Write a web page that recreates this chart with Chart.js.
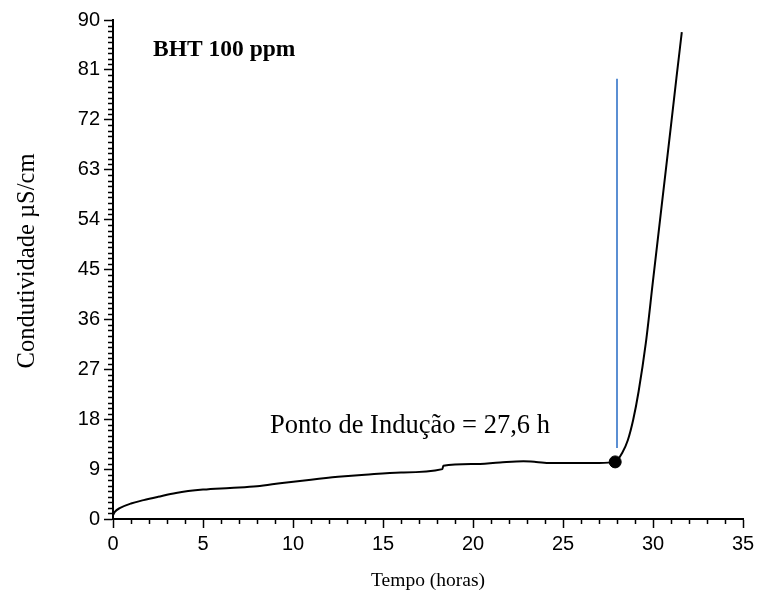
<!DOCTYPE html>
<html>
<head>
<meta charset="utf-8">
<script src="https://cdn.jsdelivr.net/npm/chart.js@4"></script>
<style>
  html, body { margin: 0; padding: 0; background: #fff; }
  #wrap { width: 759px; height: 598px; }
</style>
</head>
<body>
<div id="wrap"><canvas id="myChart" width="759" height="598"></canvas></div>
<script>
// tempo (h) x condutividade (uS/cm)
const tempo  = [0, 0.1, 0.4, 1, 1.7, 2.5, 3.5, 5, 6.5, 8, 9.4, 11, 12.5, 14, 16, 18.3, 18.35, 20, 21.5, 22.8, 23.5, 24.3, 25.5, 27, 27.9, 28.3, 28.6, 28.9, 29.2, 29.6, 30.0, 30.5, 31.0, 31.3, 31.6];
const condut = [0.7, 1.3, 2.0, 2.8, 3.4, 4.0, 4.7, 5.3, 5.6, 5.9, 6.5, 7.1, 7.6, 8.0, 8.4, 9.0, 9.6, 9.9, 10.2, 10.4, 10.3, 10.1, 10.1, 10.1, 10.3, 12, 14.2, 17.9, 23, 31.7, 43, 57, 71, 79.5, 87.8];

const pontoInducao = [{x: 27.9, y: 10.3}];
const linhaInducao = [{x: 28, y: 12.8}, {x: 28, y: 79.4}];

const xTicks = [0, 5, 10, 15, 20, 25, 30, 35];
const yTicks = [0, 9, 18, 27, 36, 45, 54, 63, 72, 81, 90];

const pontos = [];
for (let i = 0; i < tempo.length; i++) {
  pontos.push({x: tempo[i], y: condut[i]});
}

const serif = "'Liberation Serif', 'Times New Roman', serif";
const sans = "'Liberation Sans', Arial, sans-serif";

// minor ticks + textos
const extras = {
  id: 'extras',
  afterDraw(chart) {
    const ctx = chart.ctx;
    const xs = chart.scales.x, ys = chart.scales.y;
    const a = chart.chartArea;
    ctx.save();
    ctx.strokeStyle = '#000';
    ctx.lineWidth = 1.5;
    ctx.beginPath();
    for (let v = 0; v <= 35; v++) {
      if (v % 5 === 0) continue;
      const px = Math.round(xs.getPixelForValue(v)) + 0.5;
      ctx.moveTo(px, a.bottom);
      ctx.lineTo(px, a.bottom + 5);
    }
    for (let v = 0; v <= 90; v++) {
      if (v % 9 === 0) continue;
      const py = Math.round(ys.getPixelForValue(v)) + 0.5;
      ctx.moveTo(a.left, py);
      ctx.lineTo(a.left - 5, py);
    }
    ctx.stroke();

    ctx.fillStyle = '#000';
    ctx.textBaseline = 'alphabetic';
    ctx.textAlign = 'left';
    ctx.font = 'bold 23.5px ' + serif;
    ctx.fillText('BHT 100 ppm', 153, 56);
    ctx.font = '26.5px ' + serif;
    ctx.fillText('Ponto de Indução = 27,6 h', 270, 433);

    ctx.textAlign = 'center';
    ctx.font = '19.5px ' + serif;
    ctx.fillText('Tempo (horas)', (a.left + a.right) / 2, 586);
    ctx.translate(34, 261);
    ctx.rotate(-Math.PI / 2);
    ctx.font = '24.5px ' + serif;
    ctx.fillText('Condutividade µS/cm', 0, 0);
    ctx.restore();
  }
};

const config = {
  type: 'scatter',
  data: {
    datasets: [
      {
        label: 'Condutividade',
        data: pontos,
        showLine: true,
        borderColor: '#000',
        borderWidth: 2,
        pointRadius: 0,
        cubicInterpolationMode: 'monotone'
      },
      {
        label: 'Ponto de indução',
        data: pontoInducao,
        backgroundColor: '#000',
        borderColor: '#000',
        pointRadius: 6
      },
      {
        label: 'Linha',
        data: linhaInducao,
        showLine: true,
        borderColor: '#5b8fd3',
        borderWidth: 2,
        pointRadius: 0
      }
    ]
  },
  options: {
    responsive: false,
    animation: false,
    layout: { padding: { top: 20, right: 16, left: 0, bottom: 0 } },
    plugins: { legend: { display: false }, tooltip: { enabled: false } },
    scales: {
      x: {
        type: 'linear',
        min: 0, max: 35,
        afterBuildTicks: s => { s.ticks = xTicks.map(v => ({value: v})); },
        afterFit: s => { s.height = 79; },
        border: { color: '#000', width: 2 },
        grid: { drawOnChartArea: false, color: '#000', tickLength: 9, tickWidth: 1.5 },
        ticks: { color: '#000', font: { family: sans, size: 20 }, padding: 4, maxRotation: 0 }
      },
      y: {
        type: 'linear',
        min: 0, max: 90,
        afterBuildTicks: s => { s.ticks = yTicks.map(v => ({value: v})); },
        afterFit: s => { s.width = 113; },
        border: { color: '#000', width: 2 },
        grid: { drawOnChartArea: false, color: '#000', tickLength: 9, tickWidth: 1.5 },
        ticks: { color: '#000', font: { family: sans, size: 20 }, padding: 4 }
      }
    }
  },
  plugins: [extras]
};

const myChart = new Chart(document.getElementById('myChart'), config);
</script>
</body>
</html>
